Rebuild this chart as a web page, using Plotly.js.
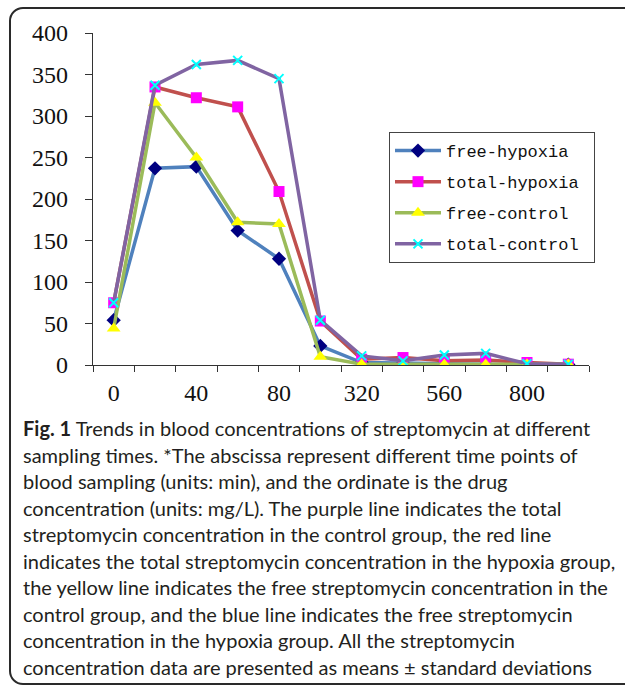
<!DOCTYPE html>
<html>
<head>
<meta charset="utf-8">
<script src="https://cdn.plot.ly/plotly-3.0.1.min.js"></script>
<style>
html,body{margin:0;padding:0;width:625px;height:685px;overflow:hidden;background:#fff;}
#frame{position:absolute;left:9px;top:7px;width:720px;height:674px;border:2px solid #2a2a2a;border-radius:14px;}
#chart{position:absolute;left:0;top:0;width:625px;height:685px;}
</style>
</head>
<body>
<div id="frame"></div>
<div id="chart"></div>
<script>
// Data
const categories = ['0','20','40','60','80','200','320','440','560','680','800','920'];
const tickLabels = ['0','','40','','80','','320','','560','','800',''];
const freeHypoxia  = [54, 237, 239, 162, 128, 23, 3, 2, 1, 1, 0.5, 0.5];
const totalHypoxia = [75, 335, 322, 311, 209, 53, 7, 9, 5, 6, 3, 1];
const freeControl  = [44, 316, 250, 172, 170, 10, 1, 1, 0.5, 0.5, 1, 1];
const totalControl = [75, 337, 362, 367, 345, 54, 11, 5, 12, 14, 1.5, 1];
const seriesNames = ['free-hypoxia', 'total-hypoxia', 'free-control', 'total-control'];
const captionLines = [
  '<b>Fig. 1</b> Trends in blood concentrations of streptomycin at different',
  'sampling times. *The abscissa represent different time points of',
  'blood sampling (units: min), and the ordinate is the drug',
  'concentration (units: mg/L). The purple line indicates the total',
  'streptomycin concentration in the control group, the red line',
  'indicates the total streptomycin concentration in the hypoxia group,',
  'the yellow line indicates the free streptomycin concentration in the',
  'control group, and the blue line indicates the free streptomycin',
  'concentration in the hypoxia group. All the streptomycin',
  'concentration data are presented as means \u00b1 standard deviations'
];

const styles = [
  {line:'#4F81BD', mk:'#000080', sym:'diamond', size:11},
  {line:'#C0504D', mk:'#FF00FF', sym:'square', size:11},
  {line:'#9BBB59', mk:'#FFFF00', sym:'triangle-up', size:12},
  {line:'#8064A2', mk:'#00FFFF', sym:'x-thin', size:9}
];
const allSeries = [freeHypoxia, totalHypoxia, freeControl, totalControl];
const traces = allSeries.map((ys, i) => ({
  x: categories, y: ys, type: 'scatter', mode: 'lines+markers',
  name: seriesNames[i] + '\u00a0', legendgroup: 'g' + i,
  line: {color: styles[i].line, width: 3.5},
  marker: {color: styles[i].mk, symbol: styles[i].sym, size: styles[i].size,
           line: {color: styles[i].mk, width: styles[i].sym === 'x-thin' ? 2 : 0}}
}));

const H = 685, T = 33, B = 320;
const plotH = H - T - B;
function py(Y){ return (H - B - Y) / plotH; }

const annotations = captionLines.map((txt, i) => ({
  text: txt, xref: 'paper', yref: 'paper', x: (21 - 93) / 496, y: py(428 + i * 26.5),
  xanchor: 'left', yanchor: 'middle', showarrow: false, align: 'left',
  font: {family: 'Lato, sans-serif', size: 20, color: '#231f20'}
}));

const serifFont = {family: "'Liberation Serif', 'Times New Roman', serif", size: 24, color: '#111'};

const layout = {
  width: 625, height: 685,
  margin: {l: 93, r: 36, t: T, b: B},
  paper_bgcolor: 'rgba(0,0,0,0)', plot_bgcolor: 'rgba(0,0,0,0)',
  showlegend: true,
  legend: {
    x: (389 - 93) / 496, y: py(132), xanchor: 'left', yanchor: 'top',
    bgcolor: '#fff', bordercolor: '#444', borderwidth: 1,
    font: {family: "'Liberation Mono', monospace", size: 17, color: '#111'},
    tracegroupgap: 6, itemwidth: 46
  },
  xaxis: {
    type: 'category', tickmode: 'array', tickvals: categories, ticktext: tickLabels,
    tickson: 'boundaries', ticks: 'outside', ticklen: 6, tickcolor: '#333', tickangle: 0,
    showline: true, linecolor: '#333', linewidth: 1.2, showgrid: false, zeroline: false,
    tickfont: serifFont, ticklabelstandoff: 6, range: [-0.5, 11.5]
  },
  yaxis: {
    range: [0, 400], dtick: 50, ticks: 'outside', ticklen: 7, tickcolor: '#333',
    showline: true, linecolor: '#333', linewidth: 1.2, showgrid: false, zeroline: false,
    tickfont: serifFont, ticklabelstandoff: 12
  },
  annotations: annotations
};

Plotly.newPlot('chart', traces, layout, {displayModeBar: false, staticPlot: true});
</script>
</body>
</html>
